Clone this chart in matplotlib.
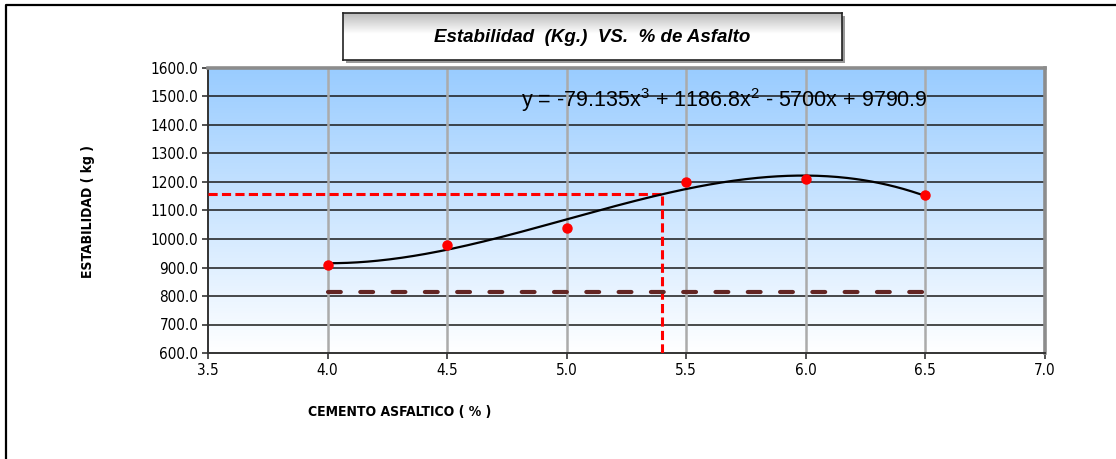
import numpy as np
import matplotlib
matplotlib.use("Agg")
import matplotlib.pyplot as plt
from matplotlib.lines import Line2D
from matplotlib.patches import Rectangle
from matplotlib import font_manager
from matplotlib.font_manager import FontProperties

# --- data ---------------------------------------------------------------
asfalto = [4.0, 4.5, 5.0, 5.5, 6.0, 6.5]
estabilidad = [909.0, 979.0, 1039.0, 1200.0, 1211.0, 1154.0]
coef = [-79.135, 1186.8, -5700.0, 9790.9]          # cubic trend line
optimo_x = 5.4                                       # optimum asphalt content
minimo_y = 815.0                                     # minimum stability spec
x_ticks = [3.5, 4.0, 4.5, 5.0, 5.5, 6.0, 6.5, 7.0]
y_ticks = [600, 700, 800, 900, 1000, 1100, 1200, 1300, 1400, 1500, 1600]
titulo = "Estabilidad  (Kg.)  VS.  % de Asfalto"
ecuacion = "y = -79.135x$^3$ + 1186.8x$^2$ - 5700x + 9790.9"
x_label = "CEMENTO ASFALTICO ( % )"
y_label = "ESTABILIDAD ( kg )"

plt.rcParams["font.family"] = ["Liberation Sans", "DejaVu Sans"]
plt.rcParams["mathtext.fontset"] = "custom"
plt.rcParams["mathtext.rm"] = "Liberation Sans"


def narrow_font(bold, size):
    """Pick a condensed sans face if one is installed."""
    files = [f.fname for f in font_manager.fontManager.ttflist]
    prefs = (["LiberationSansNarrow-Bold", "DejaVuSansCondensed-Bold",
              "Roboto_Condensed-Bold", "RobotoCondensed-Bold"] if bold else
             ["LiberationSansNarrow-Regular", "DejaVuSansCondensed.",
              "Roboto_Condensed-Regular", "RobotoCondensed-Regular"])
    for p in prefs:
        for f in files:
            if p in f:
                return FontProperties(fname=f, size=size)
    return FontProperties(family="Liberation Sans", size=size,
                          weight="bold" if bold else "normal")


W, H = 1116, 459
fig = plt.figure(figsize=(W / 100, H / 100), dpi=100)


def fx(px):
    return px / W


def fy(py):
    return 1 - py / H


# outer chart border
fig.add_artist(Line2D([fx(5.5), fx(5.5), 1], [0, fy(4.5), fy(4.5)],
                      color="black", lw=1.6, transform=fig.transFigure))

# plot area
L, R, T, B = 208, 1045, 68, 353
ax = fig.add_axes([fx(L), fy(B), (R - L) / W, (B - T) / H])
ax.set_xlim(3.5, 7.0)
ax.set_ylim(600, 1600)

# background gradient: light blue at the top fading to white
grad = np.linspace(0, 1, 256).reshape(-1, 1)
top = np.array([0x99, 0xCC, 0xFF]) / 255
bot = np.array([1.0, 1.0, 1.0])
img = top[None, None, :] * (1 - grad[..., None]) + bot[None, None, :] * grad[..., None]
ax.imshow(img, extent=[3.5, 7.0, 600, 1600], aspect="auto", zorder=0, origin="upper")

# grid
for y in y_ticks[1:-1]:
    ax.axhline(y, color="#1a1a1a", lw=1.1, zorder=1)
for x in x_ticks[1:-1]:
    ax.axvline(x, color="#ababab", lw=1.8, zorder=1)

# trend line
xs = np.linspace(asfalto[0], asfalto[-1], 300)
ax.plot(xs, np.polyval(coef, xs), color="black", lw=1.6, zorder=4)

# optimum reference lines
y_opt = np.polyval(coef, optimo_x)
ax.plot([3.5, optimo_x], [y_opt, y_opt], color="#ff0000", lw=2.2,
        dashes=(3.0, 1.4), zorder=3)
ax.plot([optimo_x, optimo_x], [600, y_opt], color="#ff0000", lw=2.2,
        dashes=(3.0, 1.4), zorder=3)

# minimum stability line
ax.plot([asfalto[0], asfalto[-1]], [minimo_y, minimo_y], color="#632523",
        lw=3.0, dashes=(3.07, 4.68), solid_capstyle="round",
        dash_capstyle="round", zorder=3)

# data points
ax.plot(asfalto, estabilidad, "o", color="#ff0000", ms=6.5, mec="#ff0000", zorder=5)

# equation label
ax.text(5.66, 1487, ecuacion, ha="center", va="center", fontsize=15.5,
        color="black", zorder=6)

# axes styling
tick_fp = narrow_font(False, 11)
ax.set_xticks(x_ticks)
ax.set_yticks(y_ticks)
ax.set_xticklabels([f"{v:.1f}" for v in x_ticks], fontproperties=tick_fp)
ax.set_yticklabels([f"{v:.1f}" for v in y_ticks], fontproperties=tick_fp)
ax.tick_params(axis="both", direction="out", length=4, width=1.2, color="#333333",
               pad=3)
for side in ("left", "bottom"):
    ax.spines[side].set_color("#333333")
    ax.spines[side].set_linewidth(1.4)
for side in ("top", "right"):
    ax.spines[side].set_color("#8c8c8c")
    ax.spines[side].set_linewidth(2.6)

# axis titles
fig.text(fx(400), fy(412), x_label, ha="center", va="center",
         fontproperties=narrow_font(True, 10.0))
fig.text(fx(88), fy(212), y_label, ha="center", va="center", rotation=90,
         fontproperties=narrow_font(True, 10.0))

# title box with shading and shadow
bx0, bx1, by0, by1 = 343, 842, 13, 60
fig.add_artist(Rectangle((fx(bx0 + 3), fy(by1 + 3)), (bx1 - bx0) / W, (by1 - by0) / H,
                         transform=fig.transFigure, facecolor="#9a9a9a",
                         edgecolor="none", zorder=1))
tax = fig.add_axes([fx(bx0), fy(by1), (bx1 - bx0) / W, (by1 - by0) / H], zorder=2)
g = np.linspace(0, 1, 100).reshape(-1, 1)
shade = np.clip(0.72 + 0.28 * np.minimum(g / 0.45, 1.0), 0, 1)
tax.imshow(np.repeat(shade[..., None], 3, axis=2), aspect="auto",
           extent=[0, 1, 0, 1], origin="upper")
tax.set_xlim(0, 1)
tax.set_ylim(0, 1)
tax.set_xticks([])
tax.set_yticks([])
for s in tax.spines.values():
    s.set_color("#222222")
    s.set_linewidth(1.2)
tax.text(0.5, 0.48, titulo, ha="center", va="center", fontsize=13.5,
         fontweight="bold", fontstyle="italic")

fig.savefig("out.png", dpi=100)
